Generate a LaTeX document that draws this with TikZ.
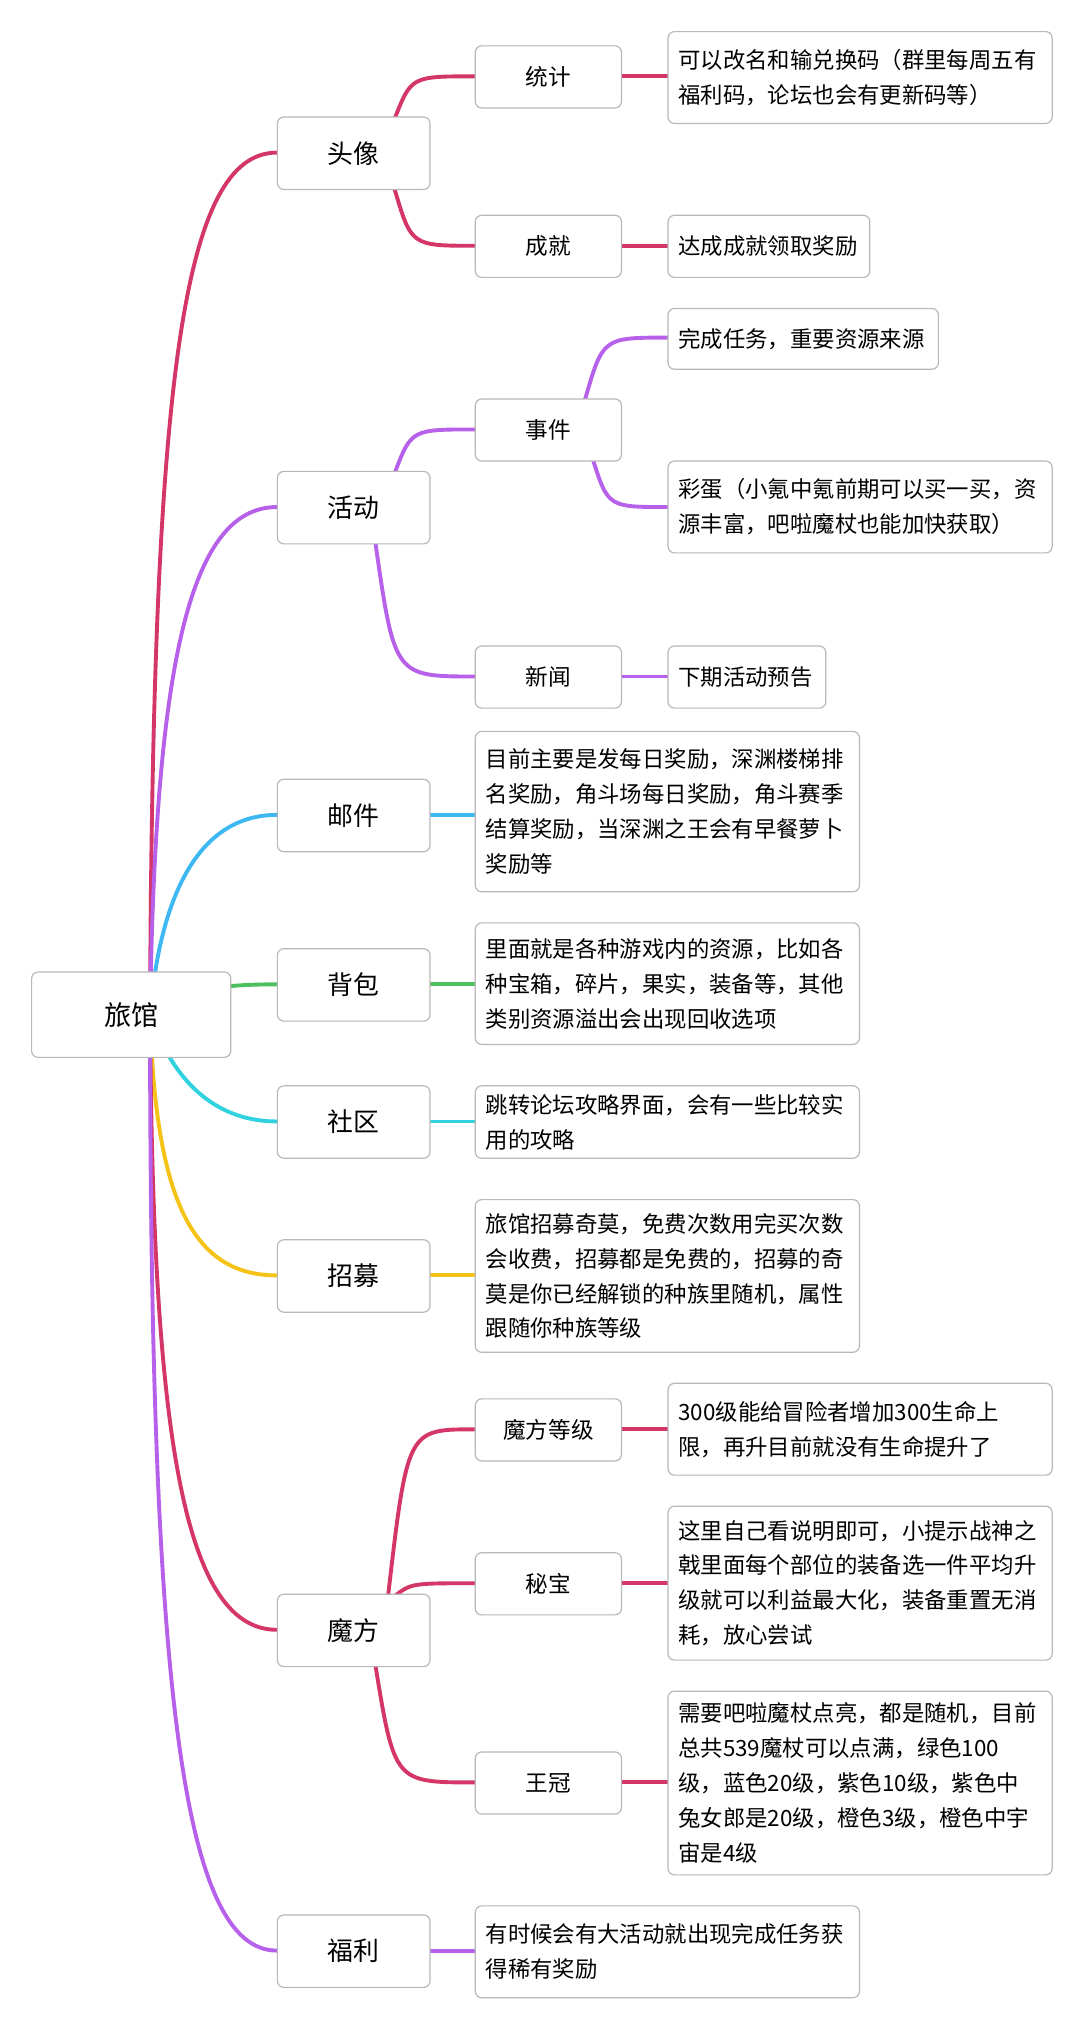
\documentclass[tikz,border=0pt]{standalone}
\usepackage{fontspec}
\setmainfont{Noto Sans CJK SC}
\begin{document}
\begin{tikzpicture}[x=1pt,y=-1pt,
  box/.style={draw=black!28,fill=white,rounded corners=5pt,line width=0.9pt,anchor=north west,inner sep=0pt},
  lv1/.style={box,minimum width=118pt,minimum height=56pt,font=\fontsize{20}{24}\selectfont},
  lv2/.style={box,minimum width=113pt,minimum height=48pt,font=\fontsize{17.5}{22}\selectfont},
  leaf/.style={box,font=\fontsize{17.3}{27}\selectfont,align=left,inner xsep=8pt,inner ysep=6pt},
  ln/.style={line width=3pt,line cap=round},
  cr/.style={ln,draw=red!60!black!20!magenta!70!red},
]
\definecolor{cC}{HTML}{D33667}
\definecolor{cP}{HTML}{B760EA}
\definecolor{cB}{HTML}{3DB8F2}
\definecolor{cG}{HTML}{4CC05E}
\definecolor{cT}{HTML}{30D2DF}
\definecolor{cY}{HTML}{F4C316}
\useasboundingbox[fill=white] (0,0) rectangle (835,1564);
% connectors (drawn first)
\coordinate (r) at (116,784);
\coordinate (a1) at (214,118);
\coordinate (a2) at (214,392);
\coordinate (a3) at (214,630);
\coordinate (a4) at (214,761);
\coordinate (a5) at (214,867);
\coordinate (a6) at (214,986);
\coordinate (a7) at (214,1260);
\coordinate (a8) at (214,1508);
\draw[ln,cC] (r) .. controls (118,300) and (140,118) .. (a1);
\draw[ln,cP] (r) .. controls (120,520) and (145,392) .. (a2);
\draw[ln,cB] (r) .. controls (125,680) and (160,630) .. (a3);
\draw[ln,cG] (r) .. controls (140,765) and (170,761) .. (a4);
\draw[ln,cT] (r) .. controls (135,840) and (170,867) .. (a5);
\draw[ln,cY] (r) .. controls (120,930) and (150,986) .. (a6);
\draw[ln,cC] (r) .. controls (118,1100) and (140,1260) .. (a7);
\draw[ln,cP] (r) .. controls (116,1300) and (140,1508) .. (a8);
% level1 -> level2
\draw[ln,cC] (305,92) .. controls (318,59) .. (367,59);
\draw[ln,cC] (305,146) .. controls (318,190) .. (367,190);
\draw[ln,cP] (305,366) .. controls (318,332) .. (367,332);
\draw[ln,cP] (290,418) .. controls (305,523) .. (367,523);
\draw[ln,cC] (300,1234) .. controls (315,1105) .. (367,1105);
\draw[ln,cC] (305,1234) .. controls (318,1224) .. (367,1224);
\draw[ln,cC] (290,1286) .. controls (305,1378) .. (367,1378);
% level2 -> leaf
\draw[ln,cC] (480,59) -- (516,59);
\draw[ln,cC] (480,190) -- (516,190);
\draw[ln,cP] (452,310) .. controls (466,261) .. (516,261);
\draw[ln,cP] (458,354) .. controls (470,392) .. (516,392);
\draw[ln,cP] (480,523) -- (516,523);
\draw[ln,cC] (480,1105) -- (516,1105);
\draw[ln,cC] (480,1224) -- (516,1224);
\draw[ln,cC] (480,1378) -- (516,1378);
% level1 -> leaf
\draw[ln,cB] (332,630) -- (367,630);
\draw[ln,cG] (332,761) -- (367,761);
\draw[ln,cT] (332,867) -- (367,867);
\draw[ln,cY] (332,986) -- (367,986);
\draw[ln,cP] (332,1508) -- (367,1508);
% nodes
\node[box,minimum width=154pt,minimum height=66pt,font=\fontsize{21}{24}\selectfont] (root) at (24,751) {旅馆};
\node[lv1] (tx) at (214,90) {头像};
\node[lv1] (hd) at (214,364) {活动};
\node[lv1] (yj) at (214,602) {邮件};
\node[lv1] (bb) at (214,733) {背包};
\node[lv1] (sq) at (214,839) {社区};
\node[lv1] (zm) at (214,958) {招募};
\node[lv1] (mf) at (214,1232) {魔方};
\node[lv1] (fl) at (214,1480) {福利};
\node[lv2] (tj) at (367,35) {统计};
\node[lv2] (cj) at (367,166) {成就};
\node[lv2] (sj) at (367,308) {事件};
\node[lv2] (xw) at (367,499) {新闻};
\node[lv2] (mfdj) at (367,1081) {魔方等级};
\node[lv2] (mb) at (367,1200) {秘宝};
\node[lv2] (wg) at (367,1354) {王冠};
\node[leaf,minimum width=297pt,minimum height=71pt,text width=281pt] (l1) at (516,24) {可以改名和输兑换码（群里每周五有\\福利码，论坛也会有更新码等）};
\node[leaf,minimum width=156pt,minimum height=48pt,text width=140pt] (l2) at (516,166) {达成成就领取奖励};
\node[leaf,minimum width=209pt,minimum height=47pt,text width=193pt] (l3) at (516,238) {完成任务，重要资源来源};
\node[leaf,minimum width=297pt,minimum height=71pt,text width=281pt] (l4) at (516,356) {彩蛋（小氪中氪前期可以买一买，资\\源丰富，吧啦魔杖也能加快获取）};
\node[leaf,minimum width=122pt,minimum height=48pt,text width=106pt] (l5) at (516,499) {下期活动预告};
\node[leaf,minimum width=297pt,minimum height=124pt,text width=281pt] (l6) at (367,565) {目前主要是发每日奖励，深渊楼梯排\\名奖励，角斗场每日奖励，角斗赛季\\结算奖励，当深渊之王会有早餐萝卜\\奖励等};
\node[leaf,minimum width=297pt,minimum height=94pt,text width=281pt] (l7) at (367,713) {里面就是各种游戏内的资源，比如各\\种宝箱，碎片，果实，装备等，其他\\类别资源溢出会出现回收选项};
\node[leaf,minimum width=297pt,minimum height=56pt,text width=281pt] (l8) at (367,839) {跳转论坛攻略界面，会有一些比较实\\用的攻略};
\node[leaf,minimum width=297pt,minimum height=118pt,text width=281pt] (l9) at (367,927) {旅馆招募奇莫，免费次数用完买次数\\会收费，招募都是免费的，招募的奇\\莫是你已经解锁的种族里随机，属性\\跟随你种族等级};
\node[leaf,minimum width=297pt,minimum height=71pt,text width=281pt] (l10) at (516,1069) {300级能给冒险者增加300生命上\\限，再升目前就没有生命提升了};
\node[leaf,minimum width=297pt,minimum height=119pt,text width=281pt] (l11) at (516,1164) {这里自己看说明即可，小提示战神之\\戟里面每个部位的装备选一件平均升\\级就可以利益最大化，装备重置无消\\耗，放心尝试};
\node[leaf,minimum width=297pt,minimum height=142pt,text width=281pt] (l12) at (516,1307) {需要吧啦魔杖点亮，都是随机，目前\\总共539魔杖可以点满，绿色100\\级，蓝色20级，紫色10级，紫色中\\兔女郎是20级，橙色3级，橙色中宇\\宙是4级};
\node[leaf,minimum width=297pt,minimum height=71pt,text width=281pt] (l13) at (367,1473) {有时候会有大活动就出现完成任务获\\得稀有奖励};
\end{tikzpicture}
\end{document}
